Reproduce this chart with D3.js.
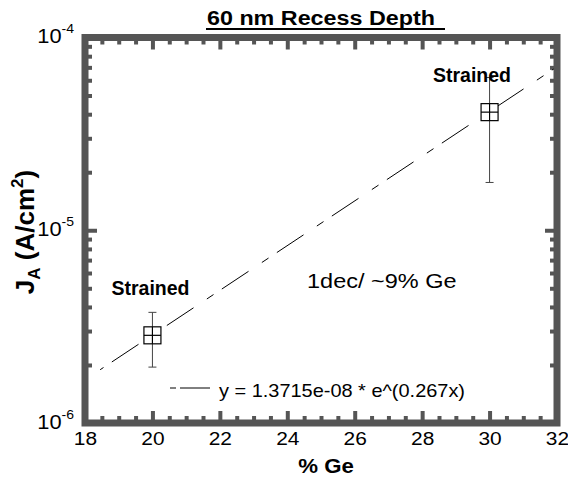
<!DOCTYPE html>
<html><head><meta charset="utf-8">
<script src="https://cdn.jsdelivr.net/npm/d3@7"></script>
<style>body{margin:0;background:#fff} text{font-family:"Liberation Sans",Arial,sans-serif;fill:#000}</style>
</head><body><svg id="c" width="568" height="477"></svg>
<script>
// ---- data ----
const geX = [20, 30];
const jaY = [2.85e-6, 4.1e-5];
const jaLow = [1.95e-6, 1.77e-5];
const jaHigh = [3.75e-6, 6.2e-5];
const pointLabels = ["Strained", "Strained"];
const fitX = [18.45, 32];
const fitY = [1.89e-6, 7.05e-5];
const xMajorTicks = [18, 20, 22, 24, 26, 28, 30, 32];
const yMajorTicks = [1e-6, 1e-5, 1e-4];
const yTickExp = ["-6", "-5", "-4"];
const titleText = "60 nm Recess Depth";
const xLabelText = "% Ge";
const legendText = "y = 1.3715e-08 * e^(0.267x)";
const annotationText = "1dec/ ~9% Ge";

const svg = d3.select("#c");
const x = d3.scaleLinear().domain([18, 32]).range([85, 557]);
const y = d3.scaleLog().domain([1e-6, 1e-4]).range([423, 37.5]);
const grey = "#555555";

const xMinor = d3.range(18, 32.01, 0.5).filter(v => xMajorTicks.indexOf(v) < 0);
const yMinor = [];
[1e-6, 1e-5].forEach(d => { for (let k = 2; k <= 9; k++) yMinor.push(k * d); });

function styleAxis(g) {
  g.select(".domain").remove();
  g.selectAll(".tick line").attr("stroke", grey).attr("stroke-width", 4);
}
const MAJ = 12, MIN = 7;
// bottom
svg.append("g").attr("transform", "translate(0,423)")
  .call(d3.axisBottom(x).tickValues(xMinor).tickSizeInner(-MIN).tickSizeOuter(0).tickFormat("")).call(styleAxis);
const bx = svg.append("g").attr("transform", "translate(0,423)")
  .call(d3.axisBottom(x).tickValues(xMajorTicks).tickSizeInner(-MAJ).tickSizeOuter(0).tickPadding(9).tickFormat(d3.format("d"))).call(styleAxis);
bx.attr("font-family", null).attr("font-size", 19);
bx.selectAll(".tick text").attr("transform", "scale(1.1,1)");
// top
svg.append("g").attr("transform", "translate(0,37.5)")
  .call(d3.axisTop(x).tickValues(xMinor).tickSizeInner(-MIN).tickSizeOuter(0).tickFormat("")).call(styleAxis);
svg.append("g").attr("transform", "translate(0,37.5)")
  .call(d3.axisTop(x).tickValues(xMajorTicks).tickSizeInner(-MAJ).tickSizeOuter(0).tickFormat("")).call(styleAxis);
// left
svg.append("g").attr("transform", "translate(85,0)")
  .call(d3.axisLeft(y).tickValues(yMinor).tickSizeInner(-MIN).tickSizeOuter(0).tickFormat("")).call(styleAxis);
svg.append("g").attr("transform", "translate(85,0)")
  .call(d3.axisLeft(y).tickValues(yMajorTicks).tickSizeInner(-MAJ).tickSizeOuter(0).tickFormat("")).call(styleAxis);
// right
svg.append("g").attr("transform", "translate(557,0)")
  .call(d3.axisRight(y).tickValues(yMinor).tickSizeInner(-MIN).tickSizeOuter(0).tickFormat("")).call(styleAxis);
svg.append("g").attr("transform", "translate(557,0)")
  .call(d3.axisRight(y).tickValues(yMajorTicks).tickSizeInner(-MAJ).tickSizeOuter(0).tickFormat("")).call(styleAxis);

// frame
svg.append("rect").attr("x", 85).attr("y", 37.5).attr("width", 472).attr("height", 385.5)
  .attr("fill", "none").attr("stroke", grey).attr("stroke-width", 7);

// y tick labels
yMajorTicks.forEach((v, i) => {
  const t = svg.append("text").attr("text-anchor", "end")
    .attr("transform", `translate(74,${y(v) + 5.5}) scale(1.12,1)`);
  t.append("tspan").attr("font-size", 19.5).text("10");
  t.append("tspan").attr("font-size", 12.5).attr("dy", -10).text(yTickExp[i]);
});

// clip
svg.append("clipPath").attr("id", "clip").append("rect")
  .attr("x", 88.5).attr("y", 41).attr("width", 465).attr("height", 378.5);

// fit line
const fitData = fitX.map((v, i) => [v, fitY[i]]);
svg.append("path").attr("clip-path", "url(#clip)")
  .attr("d", d3.line().x(d => x(d[0])).y(d => y(d[1]))(fitData))
  .attr("fill", "none").attr("stroke", "#000").attr("stroke-width", 1)
  .attr("stroke-dasharray", "32,16,8,10").attr("stroke-dashoffset", 52);

// error bars
const eb = svg.append("g").attr("stroke", "#444").attr("stroke-width", 1);
geX.forEach((gx, i) => {
  const cx = x(gx);
  eb.append("line").attr("x1", cx).attr("x2", cx).attr("y1", y(jaLow[i])).attr("y2", y(jaHigh[i]));
  eb.append("line").attr("x1", cx - 4).attr("x2", cx + 4).attr("y1", y(jaLow[i])).attr("y2", y(jaLow[i]));
  eb.append("line").attr("x1", cx - 4).attr("x2", cx + 4).attr("y1", y(jaHigh[i])).attr("y2", y(jaHigh[i]));
});

// markers: square with cross
const S = 8.5;
geX.forEach((gx, i) => {
  const cx = x(gx), cy = y(jaY[i]);
  const m = svg.append("g").attr("stroke", "#000").attr("stroke-width", 1.2);
  m.append("rect").attr("x", cx - S).attr("y", cy - S).attr("width", 2 * S).attr("height", 2 * S).attr("fill", "#fff");
  m.append("line").attr("x1", cx - S).attr("x2", cx + S).attr("y1", cy).attr("y2", cy);
  m.append("line").attr("x1", cx).attr("x2", cx).attr("y1", cy - S).attr("y2", cy + S);
});

function stext(str, tx, ty, size, weight, sx, anchor) {
  return svg.append("text").attr("transform", `translate(${tx},${ty}) scale(${sx},1)`)
    .attr("font-size", size).attr("font-weight", weight).attr("text-anchor", anchor || "start").text(str);
}

// point labels
stext(pointLabels[0], 111.5, 295, 19.5, "bold", 1.0);
stext(pointLabels[1], 433, 82, 19.5, "bold", 1.0);

// annotation
stext(annotationText, 307, 288, 21, "normal", 1.12);

// legend
svg.append("line").attr("x1", 170).attr("x2", 176).attr("y1", 388).attr("y2", 388).attr("stroke", "#000");
svg.append("line").attr("x1", 180).attr("x2", 210).attr("y1", 388).attr("y2", 388).attr("stroke", "#000");
stext(legendText, 219, 397, 19, "normal", 1.05);

// title
stext(titleText, 207, 25, 21, "bold", 1.11);
svg.append("line").attr("x1", 206).attr("x2", 445).attr("y1", 29).attr("y2", 29).attr("stroke", "#000").attr("stroke-width", 2);

// x label
stext(xLabelText, 326, 473, 21, "bold", 1.06, "middle");

// y label
const yl = svg.append("text").attr("transform", "translate(34,232) rotate(-90)")
  .attr("text-anchor", "middle").attr("font-weight", "bold").attr("font-size", 26);
yl.append("tspan").text("J");
yl.append("tspan").attr("font-size", 17).attr("dy", 6).text("A");
yl.append("tspan").attr("dy", -6).text(" (A/cm");
yl.append("tspan").attr("font-size", 17).attr("dy", -11).text("2");
yl.append("tspan").attr("dy", 11).text(")");
</script></body></html>
